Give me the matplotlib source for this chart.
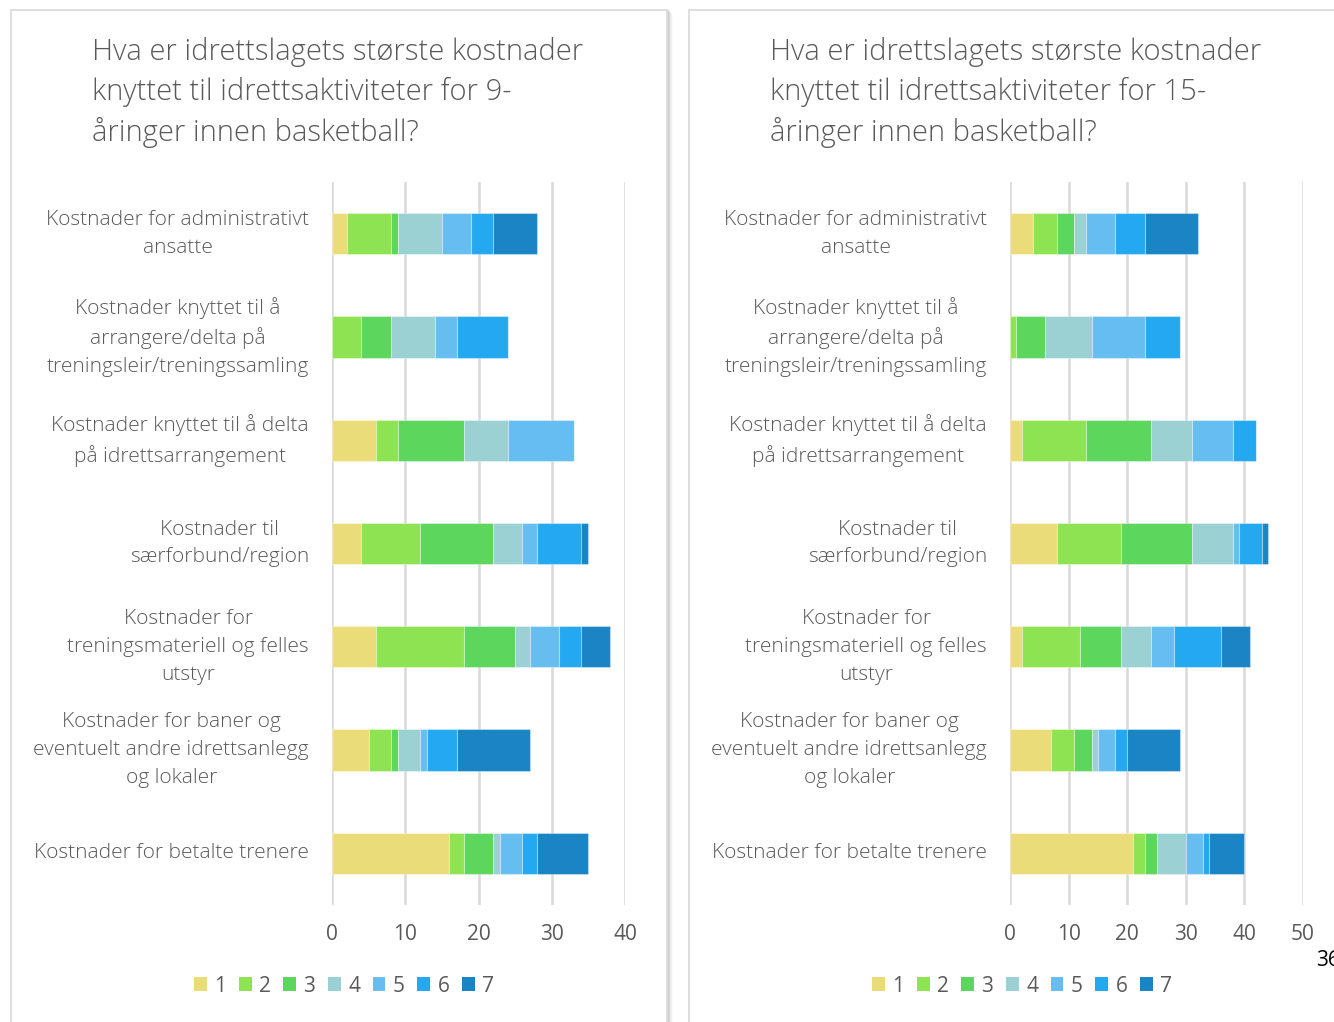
import matplotlib
matplotlib.use("Agg")
import matplotlib.pyplot as plt
from matplotlib.patches import Rectangle, Patch
from matplotlib.transforms import ScaledTranslation
import numpy as np

plt.rcParams['font.family'] = ['Open Sans', 'DejaVu Sans']

categories = [
    "Kostnader for administrativt\nansatte",
    "Kostnader knyttet til å\narrangere/delta på\ntreningsleir/treningssamling",
    "Kostnader knyttet til å delta\npå idrettsarrangement",
    "Kostnader til\nsærforbund/region",
    "Kostnader for\ntreningsmateriell og felles\nutstyr",
    "Kostnader for baner og\neventuelt andre idrettsanlegg\nog lokaler",
    "Kostnader for betalte trenere",
]
series_names = ["1", "2", "3", "4", "5", "6", "7"]

# rows = categories, columns = series 1..7
values_9 = [
    [2, 6, 1, 6, 4, 3, 6],
    [0, 4, 4, 6, 3, 7, 0],
    [6, 3, 9, 6, 9, 0, 0],
    [4, 8, 10, 4, 2, 6, 1],
    [6, 12, 7, 2, 4, 3, 4],
    [5, 3, 1, 3, 1, 4, 10],
    [16, 2, 4, 1, 3, 2, 7],
]
values_15 = [
    [4, 4, 3, 2, 5, 5, 9],
    [0, 1, 5, 8, 9, 6, 0],
    [2, 11, 11, 7, 7, 4, 0],
    [8, 11, 12, 7, 1, 4, 1],
    [2, 10, 7, 5, 4, 8, 5],
    [7, 4, 3, 1, 3, 2, 9],
    [21, 2, 2, 5, 3, 1, 6],
]
xticks_9 = [0, 10, 20, 30, 40]
xticks_15 = [0, 10, 20, 30, 40, 50]

title_9 = "Hva er idrettslagets største kostnader\nknyttet til idrettsaktiviteter for 9-\nåringer innen basketball?"
title_15 = "Hva er idrettslagets største kostnader\nknyttet til idrettsaktiviteter for 15-\nåringer innen basketball?"

colors = ["#EBDC7A", "#8DE352", "#5CD65C", "#9BD1D3", "#66BEF0", "#24A8F0", "#1B84C4"]
text_color = "#595959"

W, H = 1334, 1022
fig = plt.figure(figsize=(W / 100, H / 100), dpi=100)

def fx(px):
    return px / W

def fy(py):
    return 1 - py / H

# panel frames with shadow
def panel(x0, x1):
    for i, a in enumerate([0.25, 0.18, 0.12, 0.07, 0.03]):
        fig.patches.append(Rectangle((fx(x1 + i), 0), fx(1.5), fy(10 + i), transform=fig.transFigure,
                                     facecolor="#808080", alpha=a, edgecolor="none", zorder=0))
    fig.patches.append(Rectangle((fx(x0), -0.01), fx(x1 - x0), fy(10) + 0.01, transform=fig.transFigure,
                                 facecolor="white", edgecolor="#D9D9D9", linewidth=1.2, zorder=1))

panel(11, 667)
panel(689, 1345)

def draw(ax_left_px, data, xticks, title, title_x_px, legend_cx_px):
    ax = fig.add_axes([fx(ax_left_px), fy(905), fx(293), fy(182) - fy(905)])
    ax.set_zorder(2)
    ax.patch.set_alpha(0)
    data = np.array(data)
    y = np.arange(len(categories))
    left = np.zeros(len(categories))
    handles = []
    for j, name in enumerate(series_names):
        ax.barh(y, data[:, j], left=left, height=0.4, color=colors[j],
                edgecolor=(1, 1, 1, 0.35), linewidth=0.8, zorder=3, label=name)
        left += data[:, j]
        handles.append(Patch(facecolor=colors[j], edgecolor="none", label=name))
    ax.set_xlim(xticks[0], xticks[-1])
    ax.set_ylim(len(categories) - 0.5, -0.5)
    ax.set_xticks(xticks)
    ax.set_xticklabels([str(t) for t in xticks])
    ax.set_yticks(y)
    ax.set_yticklabels([])
    off = ax.get_yaxis_transform() + ScaledTranslation(-23 / 100, 0, fig.dpi_scale_trans)
    for yi, cat in zip(y, categories):
        ax.text(0, yi, cat, transform=off, ha="right", va="center", multialignment="center",
                fontsize=15, color=text_color, fontweight="light", linespacing=1.52)
    ax.tick_params(axis="y", length=0)
    ax.tick_params(axis="x", length=0, pad=14, labelsize=15, labelcolor=text_color)
    for s in ax.spines.values():
        s.set_visible(False)
    ax.grid(axis="x", color="#D9D9D9", linewidth=1.8, zorder=0)
    ax.set_axisbelow(True)
    fig.text(fx(title_x_px), fy(37), title, ha="left", va="top", fontsize=21,
             color=text_color, fontweight="light", linespacing=1.42, zorder=5)
    leg = fig.legend(handles=handles, loc="center", bbox_to_anchor=(fx(legend_cx_px), fy(986)),
                     ncol=7, frameon=False, fontsize=15, handlelength=0.62, handleheight=0.62,
                     handletextpad=0.35, columnspacing=0.6, labelcolor=text_color)
    leg.set_zorder(5)
    return ax

draw(332, values_9, xticks_9, title_9, 92, 344)
draw(1010, values_15, xticks_15, title_15, 770, 1022)

fig.text(fx(1316), fy(960), "36", ha="left", va="center", fontsize=15, color="black", zorder=6)

fig.savefig("out.png", dpi=100)
